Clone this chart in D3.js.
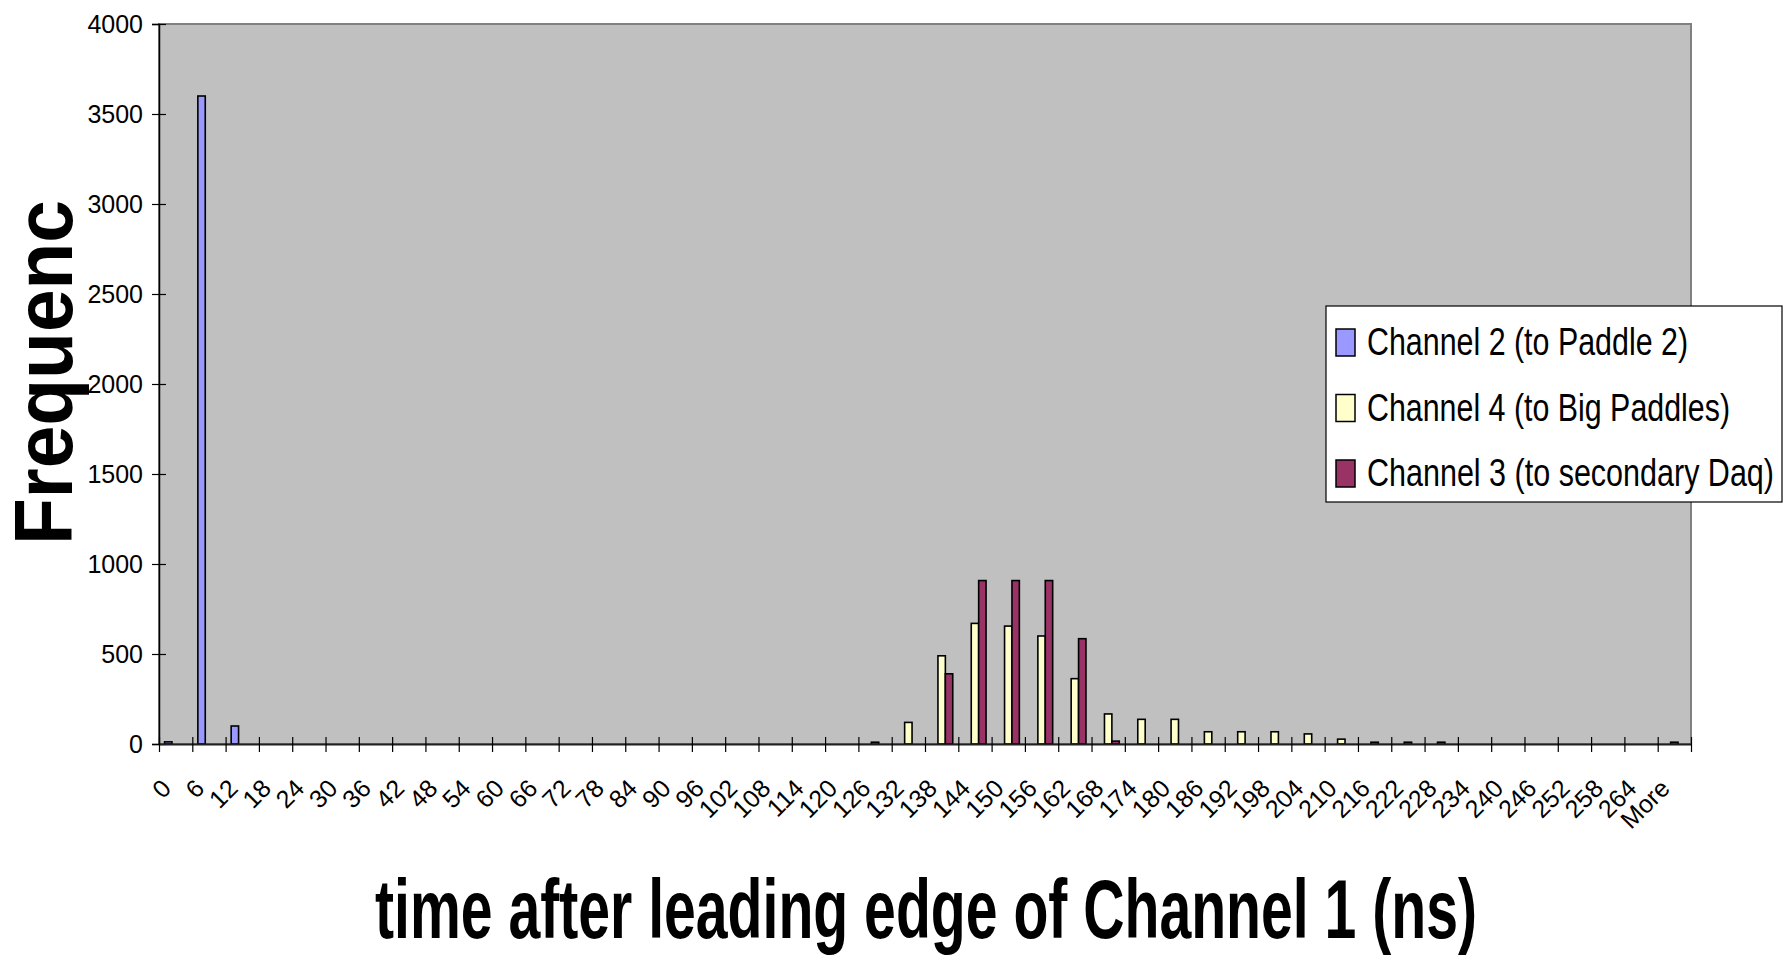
<!DOCTYPE html>
<html>
<head>
<meta charset="utf-8">
<script src="https://cdn.jsdelivr.net/npm/d3@7"></script>
<style>
  html, body { margin: 0; padding: 0; background: #fff; }
  svg { display: block; }
  .narrow { font-family: "Liberation Sans Narrow", "Arial Narrow", "Liberation Sans", Arial, sans-serif; }
  .bold { font-family: "Liberation Sans", Arial, sans-serif; font-weight: bold; }
</style>
</head>
<body>
<svg id="chart" width="1788" height="956"></svg>
<script>
// Histogram bins (ns after the leading edge of channel 1)
const categories = ["0","6","12","18","24","30","36","42","48","54","60","66","72","78","84","90",
  "96","102","108","114","120","126","132","138","144","150","156","162","168","174","180","186",
  "192","198","204","210","216","222","228","234","240","246","252","258","264","More"];

const seriesNames = ["Channel 2 (to Paddle 2)", "Channel 4 (to Big Paddles)", "Channel 3 (to secondary Daq)"];
const seriesColors = ["#9999FF", "#FFFFCC", "#993366"];

// Counts per bin
const channel2 = [12,3600,100,0,0,0,0,0,0,0,0,0,0,0,0,0,
  0,0,0,0,0,0,0,0,0,0,0,0,0,0,0,0,
  0,0,0,0,0,0,0,0,0,0,0,0,0,0];
const channel4 = [0,0,0,0,0,0,0,0,0,0,0,0,0,0,0,0,
  0,0,0,0,0,10,120,490,670,655,600,363,167,137,137,68,
  68,68,56,27,10,10,10,0,0,0,0,0,0,10];
const channel3 = [0,0,0,0,0,0,0,0,0,0,0,0,0,0,0,0,
  0,0,0,0,0,0,0,390,908,908,908,585,16,0,0,0,
  0,0,0,0,0,0,0,0,0,0,0,0,0,0];

const yTicks = [0,500,1000,1500,2000,2500,3000,3500,4000];

const seriesValues = [channel2, channel4, channel3];

const svg = d3.select("#chart");
const plot = { left: 159, top: 24, right: 1691, bottom: 744 };

const x0 = d3.scaleBand().domain(categories).range([plot.left, plot.right]).padding(0);
const x1 = d3.scaleBand().domain(d3.range(seriesNames.length))
  .range([0, x0.bandwidth()]).paddingInner(0).paddingOuter(0.75);
const y = d3.scaleLinear().domain([0, 4000]).range([plot.bottom, plot.top]);

// plot area
svg.append("rect")
  .attr("x", plot.left).attr("y", plot.top)
  .attr("width", plot.right - plot.left).attr("height", plot.bottom - plot.top)
  .attr("fill", "#C0C0C0").attr("stroke", "#808080").attr("stroke-width", 2);

// bars
const groups = svg.append("g").selectAll("g")
  .data(categories).join("g")
  .attr("transform", d => `translate(${x0(d)},0)`);

groups.selectAll("rect")
  .data((d, i) => seriesValues.map((vals, s) => ({ s, v: vals[i] })).filter(e => e.v > 0))
  .join("rect")
  .attr("x", d => x1(d.s))
  .attr("width", x1.bandwidth())
  .attr("y", d => y(d.v))
  .attr("height", d => y(0) - y(d.v))
  .attr("fill", d => seriesColors[d.s])
  .attr("stroke", "#000").attr("stroke-width", 1.6);

// y axis
const yAxis = svg.append("g")
  .attr("class", "narrow")
  .attr("transform", `translate(${plot.left},0)`)
  .call(d3.axisLeft(y).tickValues(yTicks).tickFormat(d3.format("d")).tickSize(7).tickPadding(9));
yAxis.select(".domain").attr("stroke", "#000").attr("stroke-width", 1.5);
yAxis.selectAll(".tick line").attr("x1", -7).attr("x2", 7).attr("stroke", "#000").attr("stroke-width", 1.2);
yAxis.selectAll(".tick text").attr("font-size", 25).attr("fill", "#000").attr("font-family", null);

// x axis: boundary ticks
const xb = d3.scaleLinear().domain([0, categories.length]).range([plot.left, plot.right]);
const xTicks = svg.append("g")
  .attr("transform", `translate(0,${plot.bottom})`)
  .call(d3.axisBottom(xb).tickValues(d3.range(categories.length + 1)).tickFormat("").tickSizeOuter(0));
xTicks.select(".domain").attr("stroke", "#202020").attr("stroke-width", 2);
xTicks.selectAll(".tick line").attr("y1", -7).attr("y2", 8).attr("stroke", "#000").attr("stroke-width", 1.2);

// x axis: category labels
const xLabels = svg.append("g")
  .attr("class", "narrow")
  .attr("transform", `translate(0,${plot.bottom})`)
  .call(d3.axisBottom(x0).tickSize(0));
xLabels.select(".domain").remove();
xLabels.selectAll(".tick text")
  .attr("font-size", 25).attr("fill", "#000").attr("font-family", null)
  .attr("text-anchor", "end")
  .attr("dy", 0).attr("y", 0)
  .attr("transform", "translate(-3,46) rotate(-45)");

// axis titles
svg.append("text")
  .attr("class", "bold")
  .attr("transform", "translate(72,545) rotate(-90)")
  .attr("font-size", 81)
  .attr("textLength", 345).attr("lengthAdjust", "spacingAndGlyphs")
  .text("Frequenc");

svg.append("text")
  .attr("class", "bold")
  .attr("x", 375).attr("y", 938)
  .attr("font-size", 84)
  .attr("textLength", 1102).attr("lengthAdjust", "spacingAndGlyphs")
  .text("time after leading edge of Channel 1 (ns)");

// legend
const legend = svg.append("g").attr("class", "narrow");
legend.append("rect")
  .attr("x", 1326).attr("y", 306).attr("width", 456).attr("height", 196)
  .attr("fill", "#fff").attr("stroke", "#000").attr("stroke-width", 1.2);
const legendWidths = [321, 363, 407];
const rows = legend.selectAll("g.row").data(seriesNames).join("g")
  .attr("class", "row")
  .attr("transform", (d, i) => `translate(0,${i * 65.5})`);
rows.append("rect")
  .attr("x", 1336).attr("y", 329).attr("width", 19).attr("height", 27)
  .attr("fill", (d, i) => seriesColors[i]).attr("stroke", "#000").attr("stroke-width", 1.5);
rows.append("text")
  .attr("x", 1367).attr("y", 355)
  .attr("font-size", 38)
  .attr("textLength", (d, i) => legendWidths[i]).attr("lengthAdjust", "spacingAndGlyphs")
  .text(d => d);
</script>
</body>
</html>
